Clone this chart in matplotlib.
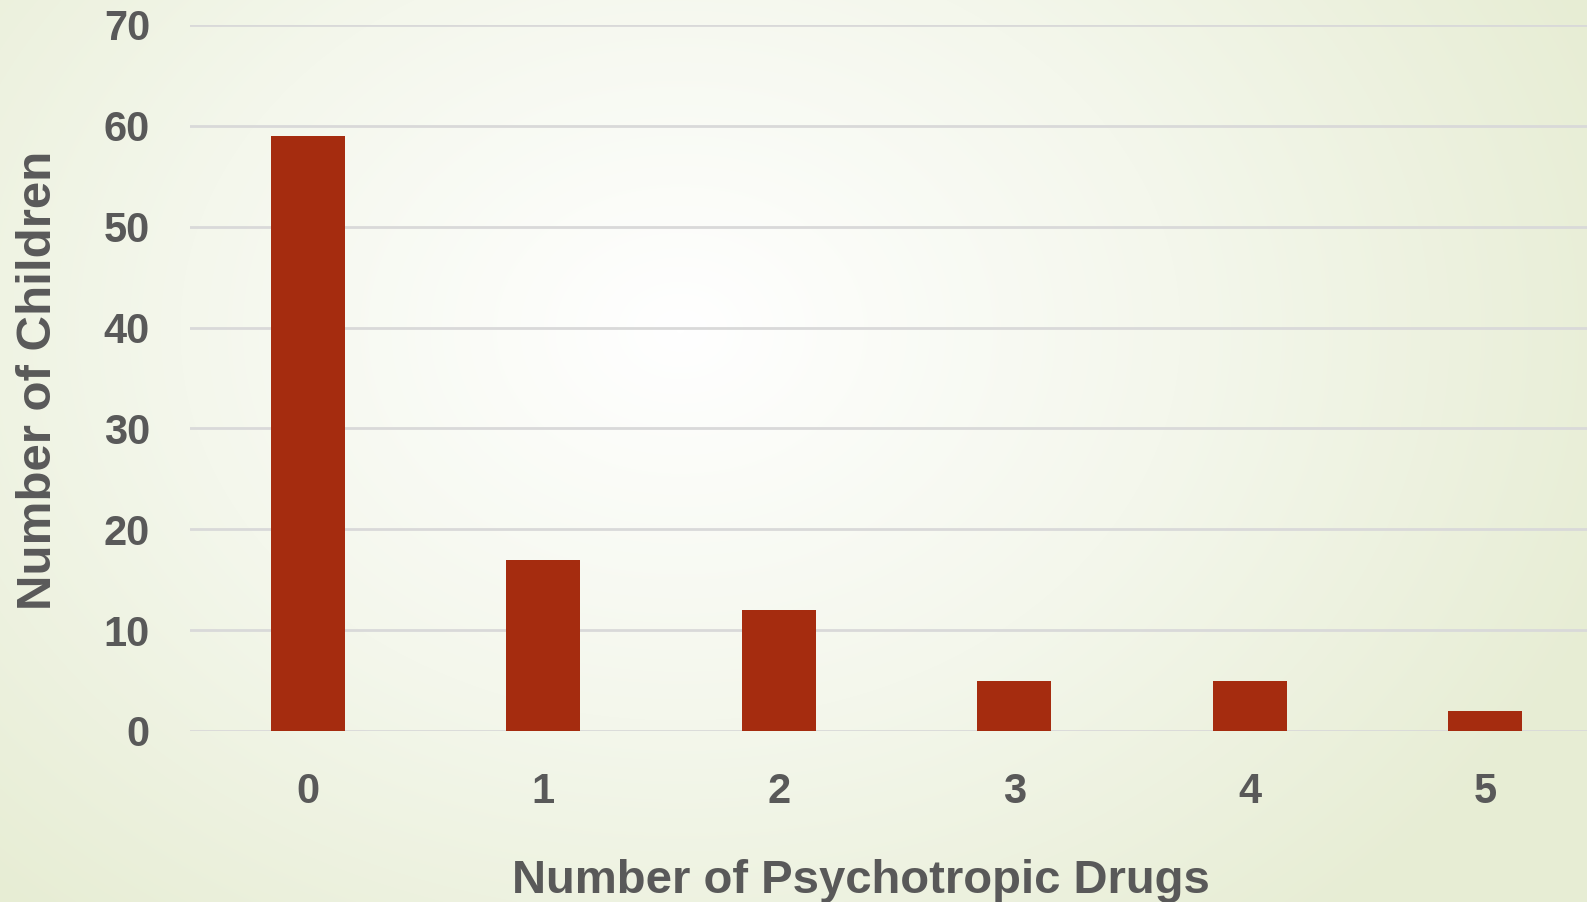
import numpy as np
import matplotlib
matplotlib.use("Agg")
import matplotlib.pyplot as plt
from matplotlib.colors import LinearSegmentedColormap

# Data
categories = ["0", "1", "2", "3", "4", "5"]
children = [59, 17, 12, 5, 5, 2]
y_ticks = [0, 10, 20, 30, 40, 50, 60, 70]

W, H, DPI = 1587, 902, 100
TEXT = "#595959"
BAR = "#a52c0f"
GRID = "#d9d9d9"
FONT = "Liberation Sans"

fig = plt.figure(figsize=(W / DPI, H / DPI), dpi=DPI)

# Soft radial background: white centre fading to pale green at the edges
bg = fig.add_axes([0, 0, 1, 1], zorder=-10)
yy, xx = np.mgrid[0:H, 0:W]
cx, cy = 680.0, 330.0
r = np.sqrt(((xx - cx) / 1000.0) ** 2 + ((yy - cy) / 780.0) ** 2)
r = np.clip(r, 0, 1)
cmap = LinearSegmentedColormap.from_list("bg", ["#ffffff", "#f4f7ec", "#e7edd4"])
bg.imshow(r, cmap=cmap, vmin=0, vmax=1, aspect="auto", interpolation="bilinear")
bg.set_axis_off()

# Plot area (right edge runs past the figure edge)
left, right = 190, 1603
top, bottom = 25, 731
ax = fig.add_axes([left / W, (H - bottom) / H, (right - left) / W, (bottom - top) / H])
ax.patch.set_alpha(0)

x = np.arange(len(categories))
ax.bar(x, children, width=0.314, color=BAR, zorder=3)

ax.set_xlim(-0.5, len(categories) - 0.5)
ax.set_ylim(0, 70)
ax.set_yticks(y_ticks)
ax.set_xticks(x)
ax.set_xticklabels(categories)
ax.grid(axis="y", color=GRID, linewidth=2, zorder=0)
ax.set_axisbelow(True)
for s in ax.spines.values():
    s.set_visible(False)
ax.tick_params(axis="both", length=0, labelcolor=TEXT)
ax.tick_params(axis="y", pad=28.8)
ax.tick_params(axis="x", pad=29.5)
for lab in ax.get_xticklabels() + ax.get_yticklabels():
    lab.set_fontfamily(FONT)
    lab.set_fontweight("bold")
    lab.set_fontsize(30)

fig.text(861 / W, 9 / H, "Number of Psychotropic Drugs", ha="center", va="baseline",
         fontsize=34, fontweight="bold", color=TEXT, fontfamily=FONT)
fig.text(39 / W, (H - 380) / H, "Number of Children", ha="center", va="center",
         rotation=90, fontsize=35.5, fontweight="bold", color=TEXT, fontfamily=FONT)

fig.savefig("out.png", dpi=DPI)
